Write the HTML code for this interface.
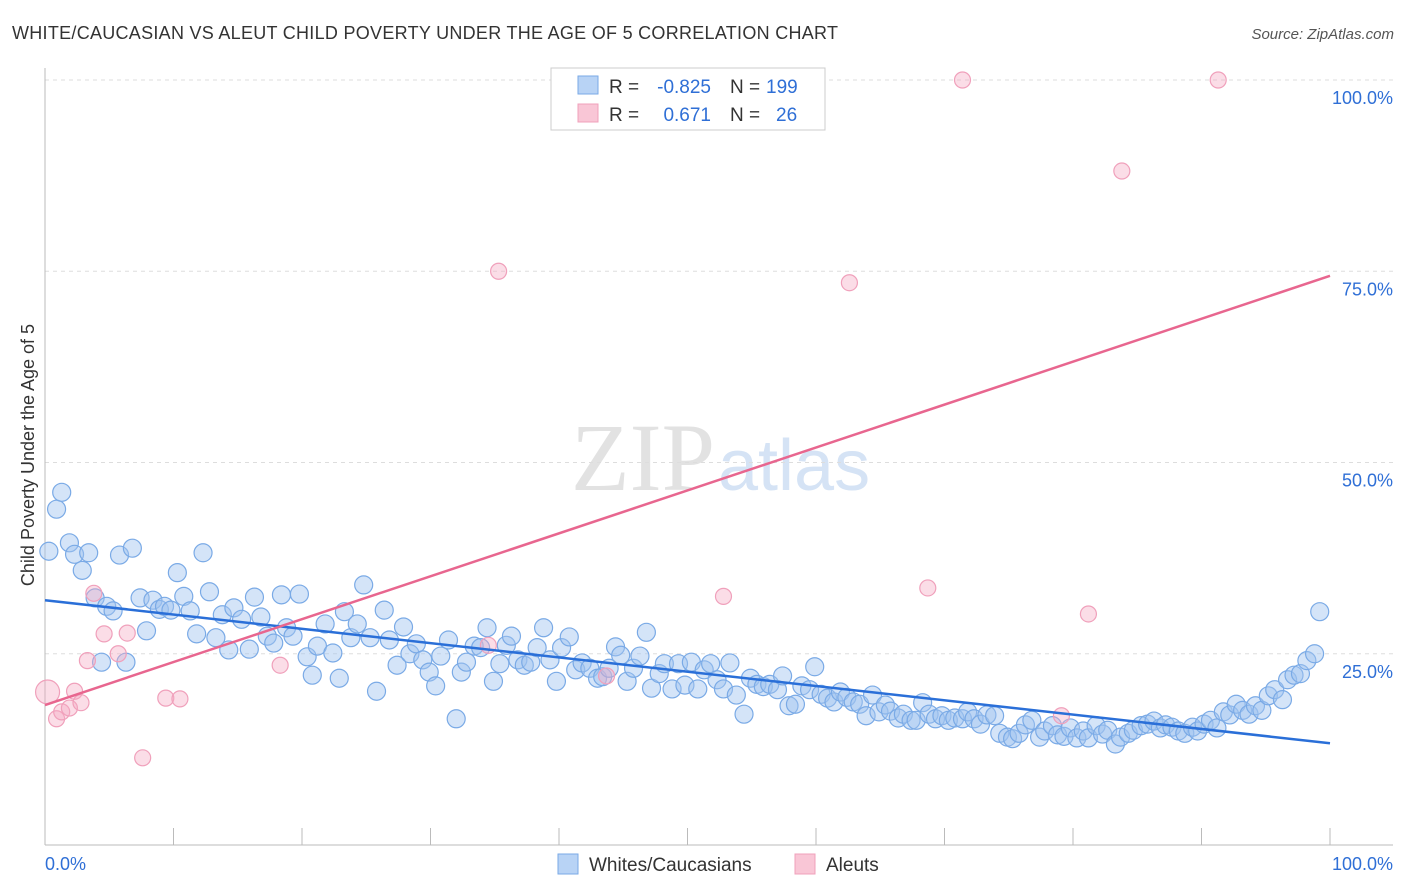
<!DOCTYPE html>
<html><head><meta charset="utf-8"><style>
body{margin:0;background:#fff;font-family:"Liberation Sans",sans-serif;}
#wrap{position:relative;width:1406px;height:892px;overflow:hidden;}
</style></head><body>
<div id="wrap">
<svg id="svg" width="1406" height="892" xmlns="http://www.w3.org/2000/svg">
<text x="12" y="39" font-size="18" fill="#333" textLength="826" lengthAdjust="spacing">WHITE/CAUCASIAN VS ALEUT CHILD POVERTY UNDER THE AGE OF 5 CORRELATION CHART</text>
<text x="1394" y="39" font-size="15" fill="#555" font-style="italic" text-anchor="end">Source: ZipAtlas.com</text>
<text x="715" y="490" font-size="96" fill="#e2e2e2" text-anchor="end" font-family="Liberation Serif">ZIP</text>
<text x="718" y="490" font-size="72" fill="#d5e3f5">atlas</text>
<text transform="translate(34,455) rotate(-90)" font-size="18" fill="#333" text-anchor="middle">Child Poverty Under the Age of 5</text>
<g id="grid"></g><g id="marks"></g><g id="lines"></g>
<g>
<rect x="551" y="68" width="274" height="62" fill="#fff" stroke="#ccc"/>
<rect x="578" y="76" width="20" height="18" fill="#b8d3f5" stroke="#7aaae6"/>
<rect x="578" y="104" width="20" height="18" fill="#f9c6d6" stroke="#f0a0bb"/>
<text x="609" y="93" font-size="19" fill="#333">R =</text>
<text x="711" y="93" font-size="19" fill="#2f6fd6" text-anchor="end">-0.825</text>
<text x="730" y="93" font-size="19" fill="#333">N =</text>
<text x="766" y="93" font-size="19" fill="#2f6fd6">199</text>
<text x="609" y="121" font-size="19" fill="#333">R =</text>
<text x="711" y="121" font-size="19" fill="#2f6fd6" text-anchor="end">0.671</text>
<text x="730" y="121" font-size="19" fill="#333">N =</text>
<text x="776" y="121" font-size="19" fill="#2f6fd6">26</text>
</g>
<g>
<rect x="558" y="854" width="20" height="20" fill="#b8d3f5" stroke="#7aaae6"/>
<text x="589" y="871" font-size="19" fill="#333">Whites/Caucasians</text>
<rect x="795" y="854" width="20" height="20" fill="#f9c6d6" stroke="#f0a0bb"/>
<text x="826" y="871" font-size="19" fill="#333">Aleuts</text>
</g>
</svg>
</div>
<script>
const yTicks=[25,50,75,100];
const yTickLabels=["25.0%","50.0%","75.0%","100.0%"];
const xTicks=[0,10,20,30,40,50,60,70,80,90,100];
const blueX=[0.3,0.9,1.3,1.9,2.3,2.9,3.4,3.9,4.4,4.8,5.3,5.8,6.3,6.8,7.4,7.9,8.4,8.9,9.3,9.8,10.3,10.8,11.3,11.8,12.3,12.8,13.3,13.8,14.3,14.7,15.3,15.9,16.3,16.8,17.3,17.8,18.4,18.8,19.3,19.8,20.4,20.8,21.2,21.8,22.4,22.9,23.3,23.8,24.3,24.8,25.3,25.8,26.4,26.8,27.4,27.9,28.4,28.9,29.4,29.9,30.4,30.8,31.4,32.0,32.4,32.8,33.4,33.9,34.4,34.9,35.4,35.9,36.3,36.8,37.3,37.8,38.3,38.8,39.3,39.8,40.2,40.8,41.3,41.8,42.4,43.0,43.4,43.9,44.4,44.8,45.3,45.8,46.3,46.8,47.2,47.8,48.2,48.8,49.3,49.8,50.3,50.8,51.3,51.8,52.3,52.8,53.3,53.8,54.4,54.9,55.4,55.9,56.4,57.0,57.4,57.9,58.4,58.9,59.5,59.9,60.4,60.9,61.4,61.9,62.4,62.9,63.4,63.9,64.4,64.9,65.4,65.8,66.4,66.8,67.4,67.8,68.3,68.8,69.3,69.8,70.3,70.8,71.4,71.8,72.3,72.8,73.3,73.9,74.3,74.9,75.3,75.8,76.3,76.8,77.4,77.8,78.4,78.8,79.3,79.8,80.3,80.8,81.2,81.8,82.3,82.7,83.3,83.7,84.3,84.7,85.3,85.8,86.3,86.8,87.2,87.7,88.2,88.7,89.3,89.7,90.2,90.7,91.2,91.7,92.2,92.7,93.2,93.7,94.2,94.7,95.2,95.7,96.3,96.7,97.2,97.7,98.2,98.8,99.2];
const blueY=[38.4,43.9,46.1,39.5,38.0,35.9,38.2,32.3,23.9,31.2,30.6,37.9,23.9,38.8,32.3,28.0,32.0,30.8,31.2,30.7,35.6,32.5,30.6,27.6,38.2,33.1,27.1,30.1,25.5,31.0,29.5,25.6,32.4,29.8,27.3,26.4,32.7,28.4,27.3,32.8,24.6,22.2,26.0,28.9,25.1,21.8,30.5,27.1,28.9,34.0,27.1,20.1,30.7,26.8,23.5,28.5,25.0,26.3,24.2,22.6,20.8,24.7,26.8,16.5,22.6,23.9,26.0,25.8,28.4,21.4,23.7,26.1,27.3,24.2,23.5,23.9,25.8,28.4,24.2,21.4,25.8,27.2,22.9,23.8,23.1,21.8,22.0,23.1,25.9,24.8,21.4,23.1,24.7,27.8,20.5,22.4,23.7,20.4,23.7,20.9,23.9,20.4,22.9,23.7,21.6,20.4,23.8,19.6,17.1,21.8,21.0,20.7,21.0,20.3,22.1,18.2,18.4,20.8,20.3,23.3,19.7,19.2,18.7,20.0,19.3,18.7,18.4,16.9,19.6,17.4,18.3,17.5,16.6,17.1,16.3,16.3,18.6,17.1,16.5,16.9,16.3,16.6,16.5,17.4,16.5,15.8,17.0,16.9,14.6,14.1,13.9,14.6,15.7,16.3,14.1,14.9,15.6,14.4,14.2,15.3,14.0,14.9,14.0,15.6,14.5,15.0,13.2,14.1,14.6,15.0,15.6,15.8,16.2,15.3,15.7,15.4,14.9,14.6,15.4,14.9,15.8,16.3,15.3,17.4,17.0,18.4,17.6,17.1,18.2,17.6,19.5,20.3,19.0,21.6,22.2,22.4,24.1,25.0,30.5];
const pinkX=[0.2,0.9,1.3,1.9,2.3,2.8,3.3,3.8,4.6,5.7,6.4,7.6,9.4,10.5,18.3,34.5,35.3,43.7,52.8,62.6,68.7,71.4,79.1,81.2,83.8,91.3];
const pinkY=[20.0,16.5,17.4,17.9,20.1,18.6,24.1,32.9,27.6,25.0,27.7,11.4,19.2,19.1,23.5,26.1,75.0,22.1,32.5,73.5,33.6,100,16.9,30.2,88.1,100];
const blueTrend=[32.0,13.3];
const pinkTrend=[18.3,74.4];
const NS="http://www.w3.org/2000/svg";
const X0=45,X1=1330,Y0=845,PPY=7.65;
const sx=v=>X0+(X1-X0)*v/100;
const sy=v=>Y0-v*PPY;
function mk(tag,attrs,parent){const e=document.createElementNS(NS,tag);for(const k in attrs)e.setAttribute(k,attrs[k]);document.getElementById(parent).appendChild(e);return e;}
yTicks.forEach((t,i)=>{
 const g=mk('line',{x1:45,x2:1393,y1:sy(t),y2:sy(t),stroke:'#ddd','stroke-dasharray':'4,4'},'grid');
 
 
 const tx=mk('text',{x:1393,y:sy(t)+24,'font-size':18,fill:'#2f6fd6','text-anchor':'end'},'grid');
 tx.textContent=yTickLabels[i];
 
 
});
const ax=mk('line',{x1:45,x2:1393,y1:Y0,y2:Y0,stroke:'#bbb'},'grid');


const ay=mk('line',{x1:45,x2:45,y1:68,y2:Y0,stroke:'#bbb'},'grid');


xTicks.forEach(t=>{
 const l=mk('line',{x1:sx(t),x2:sx(t),y1:828,y2:Y0,stroke:'#bbb'},'grid');
 
 
});
const xl0=mk('text',{x:45,y:870,'font-size':18,fill:'#2f6fd6'},'grid');xl0.textContent='0.0%';


const xl1=mk('text',{x:1393,y:870,'font-size':18,fill:'#2f6fd6','text-anchor':'end'},'grid');xl1.textContent='100.0%';


blueX.forEach((v,i)=>{
 const c=mk('circle',{cx:sx(v),cy:sy(blueY[i]),r:9,fill:'rgba(160,195,240,0.45)',stroke:'#7aaae6','stroke-width':1.2},'marks');
 
 
});
pinkX.forEach((v,i)=>{
 const c=mk('circle',{cx:sx(v),cy:sy(pinkY[i]),r:i==0?12:8,fill:'rgba(245,170,195,0.4)',stroke:'#f0a0bb','stroke-width':1.2},'marks');
 
 
});
const bl=mk('line',{x1:sx(0),y1:sy(blueTrend[0]),x2:sx(100),y2:sy(blueTrend[1]),stroke:'#2a6fd8','stroke-width':2.5},'lines');


const pl=mk('line',{x1:sx(0),y1:sy(pinkTrend[0]),x2:sx(100),y2:sy(pinkTrend[1]),stroke:'#e8668f','stroke-width':2.5},'lines');


</script>
</body></html>
